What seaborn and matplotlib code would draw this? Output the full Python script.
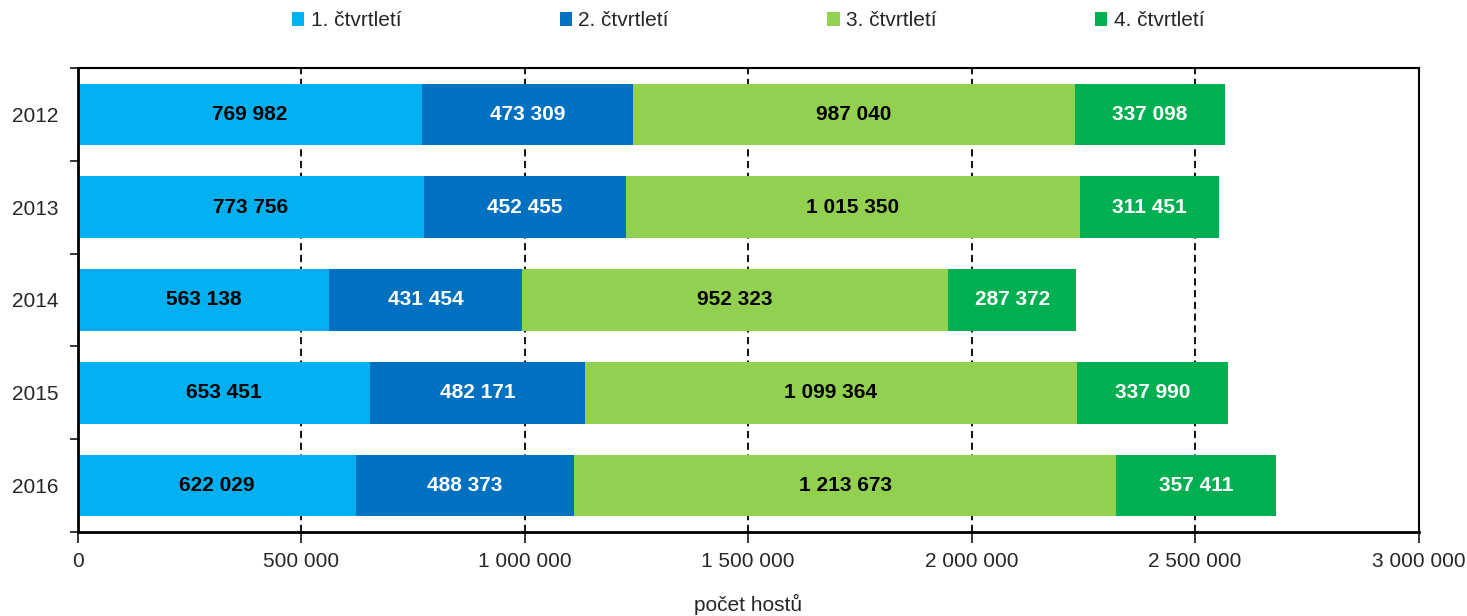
import numpy as np
import pandas as pd
import matplotlib
matplotlib.use('Agg')
import matplotlib.pyplot as plt
import seaborn as sns
from matplotlib.ticker import FuncFormatter, FixedLocator
from matplotlib.patches import Patch

years = ['2012', '2013', '2014', '2015', '2016']
quarters = ['1. čtvrtletí', '2. čtvrtletí', '3. čtvrtletí', '4. čtvrtletí']
q1 = [769982, 773756, 563138, 653451, 622029]
q2 = [473309, 452455, 431454, 482171, 488373]
q3 = [987040, 1015350, 952323, 1099364, 1213673]
q4 = [337098, 311451, 287372, 337990, 357411]
colors = ['#00B0F0', '#0070C0', '#92D050', '#00B050']
label_colors = ['black', 'white', 'black', 'white']

sns.set_style('white')
plt.rcParams['font.family'] = ['Liberation Sans', 'DejaVu Sans']

def fmt(v):
    return f'{int(v):,}'.replace(',', ' ')

df = pd.DataFrame({'rok': years, quarters[0]: q1, quarters[1]: q2,
                   quarters[2]: q3, quarters[3]: q4})
cum = df[quarters].cumsum(axis=1)

fig = plt.figure(figsize=(14.67, 6.16), dpi=100)
ax = fig.add_axes([0.053, 0.136, 0.914, 0.754])

# stacked bars: draw cumulative totals from the largest down
for i in range(3, -1, -1):
    sns.barplot(x=cum[quarters[i]], y=df['rok'], color=colors[i], orient='h',
                width=0.66, linewidth=0, saturation=1, ax=ax)

for i, q in enumerate(quarters):
    for j in range(len(years)):
        v = df[q][j]
        ax.text(cum[q][j] - v / 2, j, fmt(v), ha='center', va='center',
                fontsize=15, fontweight='bold', color=label_colors[i])

ax.set_xlim(0, 3000000)
ax.set_ylim(len(years) - 0.5, -0.5)
ax.xaxis.set_major_locator(FixedLocator(np.arange(0, 3000001, 500000)))
ax.xaxis.set_major_formatter(FuncFormatter(lambda x, p: fmt(x)))
ax.grid(axis='x', color='black', linestyle=(0, (4, 2.5)), linewidth=1.3)
ax.grid(axis='y', visible=False)
ax.set_axisbelow(True)

ax.yaxis.set_minor_locator(FixedLocator(np.arange(-0.5, len(years), 1)))
ax.tick_params(axis='y', which='major', length=0, pad=14, labelsize=15)
ax.tick_params(axis='y', which='minor', length=6, width=1.3, direction='out', left=True)
ax.tick_params(axis='x', which='major', length=8, width=1.3, direction='out',
               bottom=True, pad=6, labelsize=15)

for s in ax.spines.values():
    s.set_visible(True)
    s.set_color('black')
    s.set_linewidth(1.5)
ax.spines['left'].set_linewidth(2)
ax.spines['bottom'].set_linewidth(2)

ax.set_xlabel('počet hostů', fontsize=15, labelpad=17)
ax.set_ylabel('')

handles = [Patch(facecolor=c, edgecolor='none') for c in colors]
ax.legend(handles, quarters, loc='lower center', bbox_to_anchor=(0.5, 1.04),
          ncol=4, frameon=False, fontsize=15, handlelength=0.6, handleheight=0.6,
          handletextpad=0.3, columnspacing=7.6)

fig.savefig('out.png', dpi=100)
